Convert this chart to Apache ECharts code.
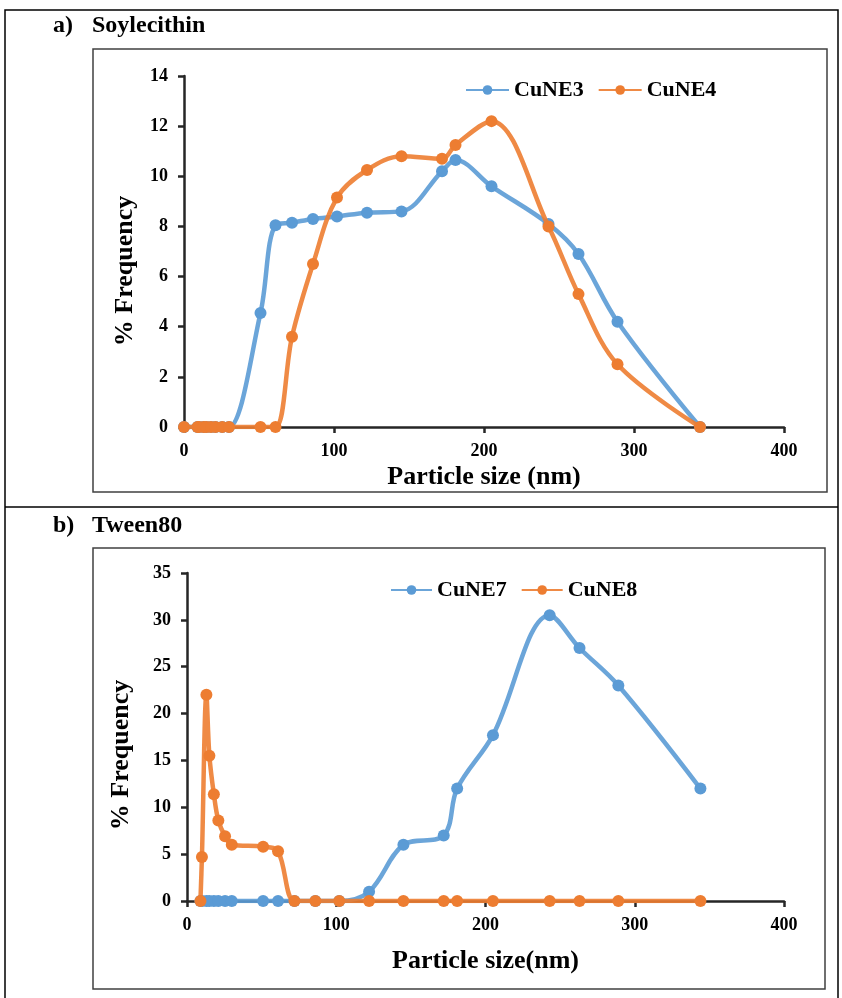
<!DOCTYPE html>
<html>
<head>
<meta charset="utf-8">
<script src="https://cdn.jsdelivr.net/npm/echarts@6/dist/echarts.min.js"></script>
<style>
  html, body { margin: 0; padding: 0; background: #fff; }
  #main { width: 842px; height: 998px; }
</style>
</head>
<body>
<div id="main"></div>
<script>
// a) Soylecithin
const sizeA = [0, 9, 10, 13, 15, 18, 21, 25.5, 30, 51, 61, 72, 86, 102, 122, 145, 172, 181, 205, 243, 263, 289, 344];
const cune3 = [0, 0, 0, 0, 0, 0, 0, 0, 0, 4.55, 8.05, 8.15, 8.3, 8.4, 8.55, 8.6, 10.2, 10.65, 9.6, 8.1, 6.9, 4.2, 0];
const cune4 = [0, 0, 0, 0, 0, 0, 0, 0, 0, 0, 0, 3.6, 6.5, 9.15, 10.25, 10.8, 10.7, 11.25, 12.2, 8.0, 5.3, 2.5, 0];

// b) Tween80
const sizeB = [9, 10, 13, 15, 18, 21, 25.5, 30, 51, 61, 72, 86, 102, 122, 145, 172, 181, 205, 243, 263, 289, 344];
const cune7 = [0, 0, 0, 0, 0, 0, 0, 0, 0, 0, 0, 0, 0, 1.0, 6.0, 7.0, 12.0, 17.7, 30.5, 27.0, 23.0, 12.0];
const cune8 = [0, 4.7, 22.0, 15.5, 11.4, 8.6, 6.9, 6.0, 5.8, 5.3, 0, 0, 0, 0, 0, 0, 0, 0, 0, 0, 0, 0];

const blue = '#5B9BD5';
const orange = '#ED7D31';
const font = 'Liberation Serif';

function pairs(xs, ys) {
  return xs.map((x, i) => [x, ys[i]]);
}

function xAx(grid, name, gap) {
  return {
    type: 'value', gridIndex: grid, min: 0, max: 400, interval: 100,
    name: name, nameLocation: 'middle', nameGap: gap,
    nameTextStyle: { fontFamily: font, fontWeight: 'bold', fontSize: 26, color: '#000' },
    axisLine: { lineStyle: { color: '#262626', width: 2.5 } },
    axisTick: { show: true, length: 6, lineStyle: { color: '#262626', width: 2.5 } },
    axisLabel: { fontFamily: font, fontWeight: 'bold', fontSize: 18, color: '#000', margin: 15 },
    splitLine: { show: false }
  };
}

function yAx(grid, max, step) {
  return {
    type: 'value', gridIndex: grid, min: 0, max: max, interval: step,
    axisLine: { show: true, lineStyle: { color: '#262626', width: 2.5 } },
    axisTick: { show: true, length: 6, lineStyle: { color: '#262626', width: 2.5 } },
    axisLabel: { fontFamily: font, fontWeight: 'bold', fontSize: 18, color: '#000', margin: 16 },
    splitLine: { show: false }
  };
}

function line(name, color, data, grid) {
  return {
    name: name, type: 'line', xAxisIndex: grid, yAxisIndex: grid,
    data: data, smooth: 0.35, symbol: 'circle', symbolSize: 12,
    lineStyle: { color: color, width: 4.5, opacity: 0.9 },
    itemStyle: { color: color },
    z: name === 'CuNE4' || name === 'CuNE8' ? 3 : 2
  };
}

function legend(names, left, top, w) {
  return {
    data: names, left: left, top: top, itemWidth: w, itemHeight: 12, itemGap: 14,
    textStyle: { fontFamily: font, fontWeight: 'bold', fontSize: 22, color: '#000' }
  };
}

function yName(x, y) {
  return {
    type: 'text', x: x, y: y, rotation: Math.PI / 2,
    style: { text: '% Frequency', font: 'bold 26px "Liberation Serif"', fill: '#000', align: 'center', verticalAlign: 'middle' }
  };
}

const chart = echarts.init(document.getElementById('main'));
chart.setOption({
  animation: false,
  backgroundColor: '#fff',
  grid: [
    { left: 184, top: 76, width: 600, height: 351 },
    { left: 187, top: 573, width: 597, height: 328 }
  ],
  xAxis: [xAx(0, 'Particle size (nm)', 37), xAx(1, 'Particle size(nm)', 47)],
  yAxis: [yAx(0, 14, 2), yAx(1, 35, 5)],
  legend: [legend(['CuNE3', 'CuNE4'], 460, 74, 43), legend(['CuNE7', 'CuNE8'], 385, 574, 41)],
  series: [
    line('CuNE3', blue, pairs(sizeA, cune3), 0),
    line('CuNE4', orange, pairs(sizeA, cune4), 0),
    line('CuNE7', blue, pairs(sizeB, cune7), 1),
    line('CuNE8', orange, pairs(sizeB, cune8), 1)
  ],
  graphic: [
    // outer table frame
    { type: 'polyline', shape: { points: [[5, 998], [5, 10], [838, 10], [838, 998]] }, style: { stroke: '#000', lineWidth: 1.5, fill: null } },
    { type: 'line', shape: { x1: 5, y1: 507, x2: 838, y2: 507 }, style: { stroke: '#000', lineWidth: 1.5 } },
    // chart boxes
    { type: 'rect', shape: { x: 93, y: 49, width: 734, height: 443 }, style: { stroke: '#404040', lineWidth: 1.5, fill: null } },
    { type: 'rect', shape: { x: 93, y: 548, width: 732, height: 441 }, style: { stroke: '#404040', lineWidth: 1.5, fill: null } },
    // axis titles
    yName(125, 271),
    yName(121, 755),
    // panel titles
    { type: 'text', left: 53, top: 14, style: { text: 'a)', font: 'bold 24px "Liberation Serif"', fill: '#000' } },
    { type: 'text', left: 92, top: 14, style: { text: 'Soylecithin', font: 'bold 24px "Liberation Serif"', fill: '#000' } },
    { type: 'text', left: 53, top: 514, style: { text: 'b)', font: 'bold 24px "Liberation Serif"', fill: '#000' } },
    { type: 'text', left: 92, top: 514, style: { text: 'Tween80', font: 'bold 24px "Liberation Serif"', fill: '#000' } }
  ]
});
</script>
</body>
</html>
